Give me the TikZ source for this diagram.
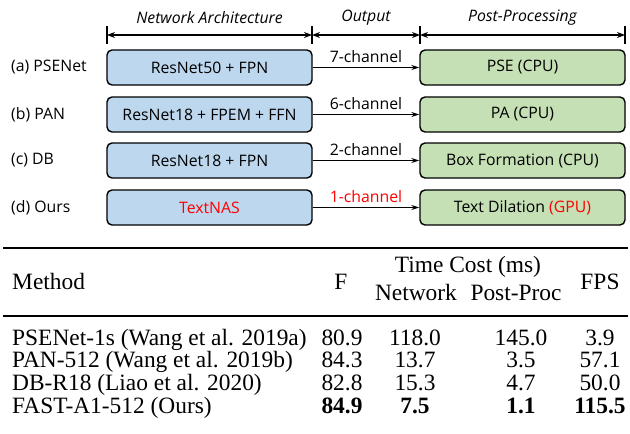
\documentclass[tikz,border=0pt]{standalone}
\usepackage{fontspec}
\setmainfont{Liberation Serif}
\newfontfamily\uifont{Open Sans}
\usetikzlibrary{arrows.meta}

\definecolor{netblue}{RGB}{189,215,238}
\definecolor{postgreen}{RGB}{197,224,180}
\definecolor{hired}{RGB}{255,0,0}

\begin{document}
\begin{tikzpicture}[x=1pt,y=-1pt,
  ui/.style={font=\uifont\fontsize{15.8}{18}\selectfont},
  uiit/.style={font=\uifont\itshape\fontsize{15.8}{18}\selectfont},
  netbox/.style={ui, draw, line width=1.4pt, rounded corners=5pt, fill=netblue,
    minimum width=205pt, minimum height=35pt, inner sep=0pt},
  postbox/.style={netbox, fill=postgreen},
  rowlabel/.style={ui, anchor=west, inner sep=0pt},
  flow/.style={line width=1.3pt, -{Stealth[length=8pt,width=5pt]}},
  chan/.style={ui, midway, anchor=base, yshift=5pt, inner sep=0pt},
  span/.style={line width=1.3pt, {Stealth[length=8pt,width=6pt]}-{Stealth[length=8pt,width=6pt]}},
  tick/.style={line width=1.4pt},
  tab/.style={font=\fontsize{23.4}{26}\selectfont, anchor=base, inner sep=0pt},
  tabl/.style={tab, anchor=base west},
  tabb/.style={tab, font=\bfseries\fontsize{23.4}{26}\selectfont},
]
\useasboundingbox (0,0) rectangle (630,434);

% section headers with dimension lines
\node[uiit] (hnet) at (209.5,18) {Network Architecture};
\node[uiit] (hout) at (366,18) {Output};
\node[uiit] (hpost) at (522.5,18) {Post-Processing};

\foreach \i/\x in {1/107,2/312,3/420,4/625}{
  \coordinate (ta\i) at (\x,26);
  \coordinate (tb\i) at (\x,44);
  \coordinate (tm\i) at (\x,35);
  \draw[tick] (ta\i) -- (tb\i);
}
\draw[span] (tm1) -- (tm2);
\draw[span] (tm2) -- (tm3);
\draw[span] (tm3) -- (tm4);

% pipelines
\node[rowlabel] (la) at (11,67.5) {(a) PSENet};
\node[netbox] (na) at (209.5,67.5) {ResNet50 + FPN};
\node[postbox] (pa) at (522.5,67.5) {PSE (CPU)};
\draw[flow] (na) -- (pa) node[chan] {7-channel};

\node[rowlabel] (lb) at (11,114.5) {(b) PAN};
\node[netbox] (nb) at (209.5,114.5) {ResNet18 + FPEM + FFN};
\node[postbox] (pb) at (522.5,114.5) {PA (CPU)};
\draw[flow] (nb) -- (pb) node[chan] {6-channel};

\node[rowlabel] (lc) at (11,160.5) {(c) DB};
\node[netbox] (nc) at (209.5,160.5) {ResNet18 + FPN};
\node[postbox] (pc) at (522.5,160.5) {Box Formation (CPU)};
\draw[flow] (nc) -- (pc) node[chan] {2-channel};

\node[rowlabel] (ld) at (11,207.5) {(d) Ours};
\node[netbox, text=hired] (nd) at (209.5,207.5) {TextNAS};
\node[postbox] (pd) at (522.5,207.5) {Text Dilation \textcolor{hired}{(GPU)}};
\draw[flow] (nd) -- (pd) node[chan, text=hired] {1-channel};

% results table
\coordinate (r1a) at (3,248);
\coordinate (r1b) at (628,248);
\coordinate (r2a) at (3,316);
\coordinate (r2b) at (628,316);
\draw[line width=1.7pt] (r1a) -- (r1b);
\draw[line width=1.1pt] (r2a) -- (r2b);

\node[tabl] (hm) at (12,289) {Method};
\node[tab] (hf) at (341,289) {F};
\node[tab] (ht) at (468,272) {Time Cost (ms)};
\node[tab] (hn) at (416,300) {Network};
\node[tab] (hp) at (516,300) {Post-Proc};
\node[tab] (hs) at (600,289) {FPS};

\node[tabl] (m1) at (12,345) {PSENet-1s (Wang et al. 2019a)};
\node[tab] (f1) at (342,345) {80.9};
\node[tab] (n1) at (415,345) {118.0};
\node[tab] (p1) at (521,345) {145.0};
\node[tab] (s1) at (600,345) {3.9};

\node[tabl] (m2) at (12,367.7) {PAN-512 (Wang et al. 2019b)};
\node[tab] (f2) at (342,367.7) {84.3};
\node[tab] (n2) at (415,367.7) {13.7};
\node[tab] (p2) at (521,367.7) {3.5};
\node[tab] (s2) at (600,367.7) {57.1};

\node[tabl] (m3) at (12,390.4) {DB-R18 (Liao et al. 2020)};
\node[tab] (f3) at (342,390.4) {82.8};
\node[tab] (n3) at (415,390.4) {15.3};
\node[tab] (p3) at (521,390.4) {4.7};
\node[tab] (s3) at (600,390.4) {50.0};

\node[tabl] (m4) at (12,413) {FAST-A1-512 (Ours)};
\node[tabb] (f4) at (342,413) {84.9};
\node[tabb] (n4) at (415,413) {7.5};
\node[tabb] (p4) at (521,413) {1.1};
\node[tabb] (s4) at (600,413) {115.5};
\end{tikzpicture}
\end{document}
